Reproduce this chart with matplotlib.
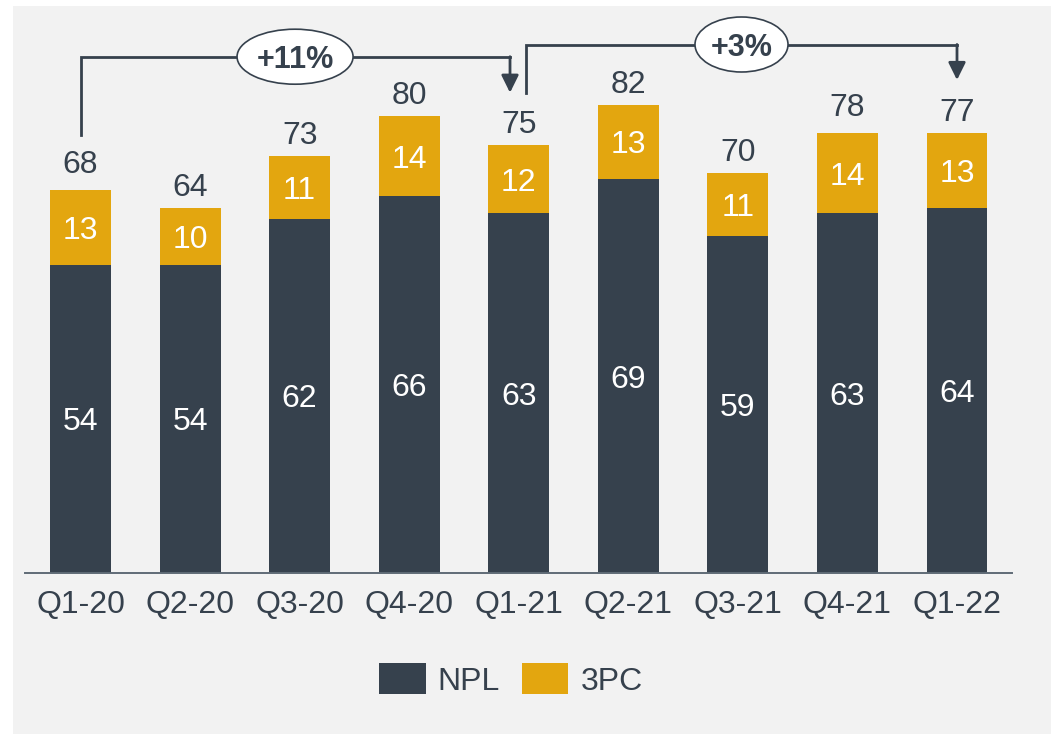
import matplotlib
matplotlib.use("Agg")
import matplotlib.pyplot as plt
from matplotlib.patches import Ellipse, Rectangle, Patch

plt.rcParams.update(
    {
        "font.family": ["Liberation Sans", "DejaVu Sans"],
        "font.size": 23,
    }
)

quarters = ["Q1-20", "Q2-20", "Q3-20", "Q4-20", "Q1-21", "Q2-21", "Q3-21", "Q4-21", "Q1-22"]
npl = [54, 54, 62, 66, 63, 69, 59, 63, 64]
tpc = [13, 10, 11, 14, 12, 13, 11, 14, 13]
totals = [68, 64, 73, 80, 75, 82, 70, 78, 77]

# growth brackets: (from index, to index, label)
growth = [(0, 4, "+11%"), (4, 8, "+3%")]

dark = "#36414d"
gold = "#e3a60f"
panel = "#f2f2f2"

W, H = 1051, 734
fig = plt.figure(figsize=(W / 100, H / 100), dpi=100, facecolor="white")
# grey panel behind the chart
fig.patches.append(
    Rectangle((13 / W, 0), 1 - 13 / W, 1 - 6 / H, transform=fig.transFigure,
              facecolor=panel, edgecolor="none", zorder=-10)
)

px_per_unit = 5.71
base_px = 573
ax = fig.add_axes([25 / W, 1 - base_px / H, (1012 - 25) / W, base_px / H])
ax.set_facecolor("none")
ax.set_xlim(-0.507, 8.502)
ax.set_ylim(0, base_px / px_per_unit)

x = list(range(len(quarters)))
bw = 0.556
ax.bar(x, npl, width=bw, color=dark, label="NPL", zorder=2)
ax.bar(x, tpc, width=bw, bottom=npl, color=gold, label="3PC", zorder=2)

for i in x:
    ax.text(i, npl[i] / 2, str(npl[i]), ha="center", va="center_baseline",
            color="white", fontsize=23, zorder=3)
    ax.text(i, npl[i] + tpc[i] / 2, str(tpc[i]), ha="center", va="center_baseline",
            color="white", fontsize=23, zorder=3)
    ax.annotate(str(totals[i]), (i, totals[i]), xytext=(0, 8.6),
                textcoords="offset points", ha="center", va="baseline",
                color=dark, fontsize=23)

# brackets with arrows
def to_data(py):
    return (base_px - py) / px_per_unit

brackets = [
    # x start, y start, y top, x end, y tip, ellipse cx, ellipse w
    (0.0, to_data(135), to_data(56.7), 3.92, to_data(92.7), 1.958, 1.059),
    (4.07, to_data(93.3), to_data(44.5), 8.0, to_data(80), 6.033, 0.849),
]
for (x0, y0, ytop, x1, ytip, ecx, ew), (_, _, lab) in zip(brackets, growth):
    ax.plot([x0, x0, x1], [y0, ytop, ytop], color=dark, lw=2,
            solid_joinstyle="miter", clip_on=False, zorder=4)
    ax.annotate("", xy=(x1, ytip), xytext=(x1, ytop),
                arrowprops=dict(arrowstyle="-|>,head_length=1.05,head_width=0.52",
                                color=dark, lw=2, shrinkA=0, shrinkB=0,
                                mutation_scale=10),
                annotation_clip=False, zorder=4)
    ax.add_patch(Ellipse((ecx, ytop), ew, 55 / px_per_unit, facecolor="white",
                         edgecolor=dark, lw=1.2, clip_on=False, zorder=5))
    ax.text(ecx, ytop, lab, ha="center", va="center_baseline", fontsize=22,
            fontweight="bold", color=dark, zorder=6)

for s in ["top", "left", "right"]:
    ax.spines[s].set_visible(False)
ax.spines["bottom"].set_color("#5f6b76")
ax.spines["bottom"].set_linewidth(1.4)
ax.set_yticks([])
ax.set_xticks(x)
ax.set_xticklabels(quarters, color=dark, fontsize=23)
ax.tick_params(axis="x", length=0, pad=12.5)

handles = [Patch(facecolor=dark, label="NPL"), Patch(facecolor=gold, label="3PC")]
fig.legend(handles=handles, loc="center", bbox_to_anchor=(511 / W, 1 - 680 / H),
           ncol=2, frameon=False, fontsize=23, handlelength=1.45, handleheight=1.08,
           handletextpad=0.38, columnspacing=0.68, borderpad=0, labelcolor=dark)

fig.savefig("out.png", dpi=100, facecolor="white")
